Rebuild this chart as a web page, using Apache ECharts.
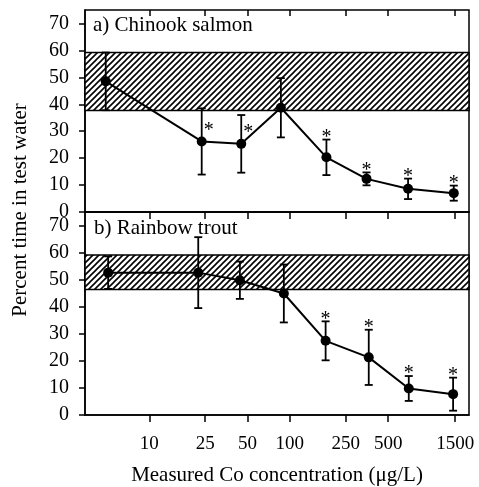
<!DOCTYPE html>
<html>
<head>
<meta charset="utf-8">
<script src="https://cdn.jsdelivr.net/npm/echarts@6/dist/echarts.min.js"></script>
<style>
html,body{margin:0;padding:0;background:#fff;}
#chart{width:479px;height:487px;}
</style>
</head>
<body>
<div id="chart"></div>
<script>
// ---- data ----
const xTicks = [10, 25, 50, 100, 250, 500, 1500];
// a) Chinook salmon
const concA = [4.9, 23.6, 45.1, 86.3, 182, 351, 693, 1465];
const meanA = [48.5, 26.2, 25.3, 38.7, 20.3, 12.3, 8.6, 7.0];
const errA  = [10.7, 12.3, 10.7, 11.0, 6.6, 2.4, 3.8, 2.8];
const sigA  = ['', '*', '*', '', '*', '*', '*', '*'];
const bandA = [37.7, 59.2];
// b) Rainbow trout
const concB = [5.1, 22.3, 44.1, 90.6, 179.6, 364, 701, 1449];
const meanB = [52.6, 52.6, 49.8, 44.9, 27.4, 21.3, 9.8, 7.7];
const errB  = [6.0, 13.1, 6.9, 10.7, 7.2, 10.2, 4.6, 6.1];
const sigB  = ['', '', '', '', '*', '*', '*', '*'];
const bandB = [46.4, 59.1];
const titles = ['a) Chinook salmon', 'b) Rainbow trout'];

// ---- hatch pattern ----
function hatch() {
  const s = 6;
  const c = document.createElement('canvas');
  c.width = s; c.height = s;
  const g = c.getContext('2d');
  g.fillStyle = '#fff'; g.fillRect(0, 0, s, s);
  g.strokeStyle = '#000'; g.lineWidth = 1.6;
  g.beginPath();
  g.moveTo(-1, s + 1); g.lineTo(s + 1, -1);
  g.moveTo(-1, 1); g.lineTo(1, -1);
  g.moveTo(s - 1, s + 1); g.lineTo(s + 1, s - 1);
  g.stroke();
  return c;
}
const pattern = { image: hatch(), repeat: 'repeat' };

const FONT = 'Liberation Serif, Times New Roman, serif';
const XMIN = 3.49, XMAX = 1880;

function errSeries(idx, conc, mean, err, sig, starSide) {
  return {
    type: 'custom', xAxisIndex: idx, yAxisIndex: idx, z: 3, silent: true,
    data: conc.map((c, i) => [c, mean[i], err[i]]),
    renderItem: function (params, api) {
      const x = api.value(0), m = api.value(1), e = api.value(2);
      const top = api.coord([x, m + e]);
      const bot = api.coord([x, m - e]);
      const ctr = api.coord([x, m]);
      const st = { stroke: '#000', lineWidth: 1.8 };
      const ch = [
        { type: 'line', shape: { x1: top[0], y1: top[1], x2: bot[0], y2: bot[1] }, style: st },
        { type: 'line', shape: { x1: top[0] - 4, y1: top[1], x2: top[0] + 4, y2: top[1] }, style: st },
        { type: 'line', shape: { x1: bot[0] - 4, y1: bot[1], x2: bot[0] + 4, y2: bot[1] }, style: st }
      ];
      const s = sig[params.dataIndex];
      if (s) {
        const side = starSide && starSide[params.dataIndex];
        ch.push({
          type: 'text',
          style: {
            text: s, x: side ? top[0] + 7 : top[0], y: side ? ctr[1] - 11 : top[1] - 2,
            font: '20px ' + FONT, fill: '#000', align: 'center', verticalAlign: 'middle'
          }
        });
      }
      return { type: 'group', children: ch };
    }
  };
}

function lineSeries(idx, conc, mean, band) {
  return [{
    type: 'line', xAxisIndex: idx, yAxisIndex: idx, z: 1, silent: true, data: [],
    markArea: {
      silent: true,
      itemStyle: { color: pattern, borderColor: '#000', borderWidth: 1.5, opacity: 1 },
      data: [[{ yAxis: band[0] }, { yAxis: band[1] }]]
    }
  }, {
    type: 'line', xAxisIndex: idx, yAxisIndex: idx, z: 4, silent: true,
    data: conc.map((c, i) => [c, mean[i]]),
    symbol: 'circle', symbolSize: 10,
    itemStyle: { color: '#000' },
    lineStyle: { color: '#000', width: 2 }
  }];
}

function xAxisDef(grid, showLabel, extra) {
  return Object.assign({
    type: 'log', logBase: 10, gridIndex: grid, min: XMIN, max: XMAX,
    axisLine: { show: true, lineStyle: { color: '#000', width: 1.5 } },
    axisTick: { show: true, inside: false, length: 7, customValues: xTicks, lineStyle: { color: '#000', width: 1.5 } },
    axisLabel: { show: showLabel, customValues: xTicks, formatter: v => String(v), color: '#000', fontFamily: FONT, fontSize: 19, margin: 20 },
    splitLine: { show: false }, minorTick: { show: false }
  }, extra || {});
}

function yAxisDef(grid) {
  return {
    type: 'value', gridIndex: grid, min: 0, max: 75, interval: 10,
    axisLine: { show: true, lineStyle: { color: '#000', width: 1.5 } },
    axisTick: { show: true, inside: false, length: 6, lineStyle: { color: '#000', width: 1.5 } },
    axisLabel: { color: '#000', fontFamily: FONT, fontSize: 20, margin: 16, showMaxLabel: false,
      formatter: v => (v % 10 === 0 ? String(v) : '') },
    splitLine: { show: false }
  };
}

const chart = echarts.init(document.getElementById('chart'), null, { renderer: 'canvas' });
chart.setOption({
  animation: false,
  backgroundColor: '#fff',
  grid: [
    { left: 85, right: 10, top: 10, height: 202, show: true, borderColor: '#000', borderWidth: 1.5, backgroundColor: 'transparent' },
    { left: 85, right: 10, top: 212, height: 203, show: true, borderColor: '#000', borderWidth: 1.5, backgroundColor: 'transparent' }
  ],
  xAxis: [
    xAxisDef(0, false),
    xAxisDef(1, true, {
      name: 'Measured Co concentration (\u03bcg/L)', nameLocation: 'middle', nameGap: 50,
      nameTextStyle: { color: '#000', fontFamily: FONT, fontSize: 21 }
    }),
    xAxisDef(0, false, { axisLine: { show: false },
      axisTick: { show: true, inside: true, length: 6, customValues: xTicks, lineStyle: { color: '#000', width: 1.5 } } })
  ],
  yAxis: [yAxisDef(0), yAxisDef(1)],
  graphic: [
    { type: 'text', left: 93, top: 15, style: { text: titles[0], font: '21px ' + FONT, fill: '#000' } },
    { type: 'text', left: 94, top: 218, style: { text: titles[1], font: '21px ' + FONT, fill: '#000' } },
    { type: 'text', x: 20, y: 210, rotation: Math.PI / 2,
      style: { text: 'Percent time in test water', font: '21px ' + FONT, fill: '#000', align: 'center', verticalAlign: 'middle' } }
  ],
  series: [].concat(
    lineSeries(0, concA, meanA, bandA),
    lineSeries(1, concB, meanB, bandB),
    [errSeries(0, concA, meanA, errA, sigA, [false, true, true, false, false, false, false, false]),
     errSeries(1, concB, meanB, errB, sigB, null)]
  )
});
</script>
</body>
</html>
